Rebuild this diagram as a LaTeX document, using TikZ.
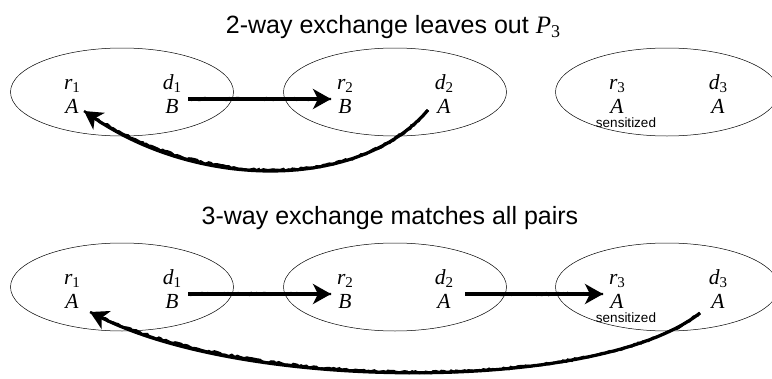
\documentclass[tikz,border=0pt]{standalone}
\usepackage{fontspec}
\setmainfont{Liberation Serif}
\newfontfamily\helv{Liberation Sans}
\usetikzlibrary{arrows.meta,decorations.pathmorphing,shapes.geometric}
\newcommand{\lowsub}[1]{\raisebox{-0.17em}{\fontsize{15}{15}\selectfont\upshape #1}}
\newcommand{\iv}[2]{\textit{#1}\lowsub{#2}}
\tikzset{
  pair/.style={draw, ellipse, line width=0.5pt, minimum width=223pt, minimum height=88pt, inner sep=0pt},
  lbl/.style={font=\fontsize{21.5}{21.5}\selectfont\itshape, inner sep=1pt, anchor=base},
  title/.style={font=\helv\fontsize{25}{25}\selectfont, inner sep=0pt, anchor=base},
  small/.style={font=\helv\fontsize{13.5}{13.5}\selectfont, inner sep=0pt, anchor=base},
  xarrow/.style={line width=3.2pt, black, -{Stealth[length=18pt,width=20pt,inset=5pt]}},
  rough/.style={line width=2.4pt, black, decorate,
     decoration={random steps, segment length=2.5pt, amplitude=1pt, pre length=1pt, post length=15pt}},
}
\begin{document}
\begin{tikzpicture}[x=1pt,y=-1pt]
\useasboundingbox (0,0) rectangle (772,378);
% ---- top row
\node[title] (t1) at (393,33) {2-way exchange leaves out \textrm{\fontsize{25}{25}\selectfont\textit{P}\raisebox{-0.17em}{\fontsize{18}{18}\selectfont 3}}};
\node[pair] (e1) at (122,92) {};
\node[pair] (e2) at (395,92) {};
\node[pair] (e3) at (667,92) {};
\node[lbl] (r1) at (72,89) {\iv{r}{1}};
\node[lbl] (a1) at (72,113) {A};
\node[lbl] (d1) at (172,89) {\iv{d}{1}};
\node[lbl] (b1) at (172,113) {B};
\node[lbl] (r2) at (345,89) {\iv{r}{2}};
\node[lbl] (b2) at (345,113) {B};
\node[lbl] (d2) at (444,89) {\iv{d}{2}};
\node[lbl] (a2) at (444,113) {A};
\node[lbl] (r3) at (617,89) {\iv{r}{3}};
\node[lbl] (a3) at (617,113) {A};
\node[lbl] (d3) at (718,89) {\iv{d}{3}};
\node[lbl] (a4) at (718,113) {A};
\node[small] (s1) at (626,127.5) {sensitized};
\coordinate (p1) at (188,99);
\coordinate (q1) at (331,99);
\draw[xarrow] (p1) -- (q1);
\draw[rough] (p1) -- (q1);
\coordinate (p2) at (428,110);
\coordinate (q2) at (84,111);
\draw[xarrow] (p2) .. controls (360,190) and (200,190) .. (q2);
\draw[rough] (p2) .. controls (360,190) and (200,190) .. (q2);
% ---- bottom row
\node[title] (t2) at (390,224) {3-way exchange matches all pairs};
\node[pair] (f1) at (122,287) {};
\node[pair] (f2) at (395,287) {};
\node[pair] (f3) at (667,287) {};
\node[lbl] (rr1) at (72,284) {\iv{r}{1}};
\node[lbl] (aa1) at (72,308) {A};
\node[lbl] (dd1) at (172,284) {\iv{d}{1}};
\node[lbl] (bb1) at (172,308) {B};
\node[lbl] (rr2) at (345,284) {\iv{r}{2}};
\node[lbl] (bb2) at (345,308) {B};
\node[lbl] (dd2) at (444,284) {\iv{d}{2}};
\node[lbl] (aa2) at (444,308) {A};
\node[lbl] (rr3) at (617,284) {\iv{r}{3}};
\node[lbl] (aa3) at (617,308) {A};
\node[lbl] (dd3) at (718,284) {\iv{d}{3}};
\node[lbl] (aa4) at (718,308) {A};
\node[small] (s2) at (626,322.5) {sensitized};
\coordinate (u1) at (188,294);
\coordinate (v1) at (331,294);
\draw[xarrow] (u1) -- (v1);
\draw[rough] (u1) -- (v1);
\coordinate (u2) at (465,294);
\coordinate (v2) at (603,294);
\draw[xarrow] (u2) -- (v2);
\draw[rough] (u2) -- (v2);
\coordinate (u3) at (700,313);
\coordinate (v3) at (90,312);
\draw[xarrow] (u3) .. controls (600,392) and (250,392) .. (v3);
\draw[rough] (u3) .. controls (600,392) and (250,392) .. (v3);
\end{tikzpicture}
\end{document}
